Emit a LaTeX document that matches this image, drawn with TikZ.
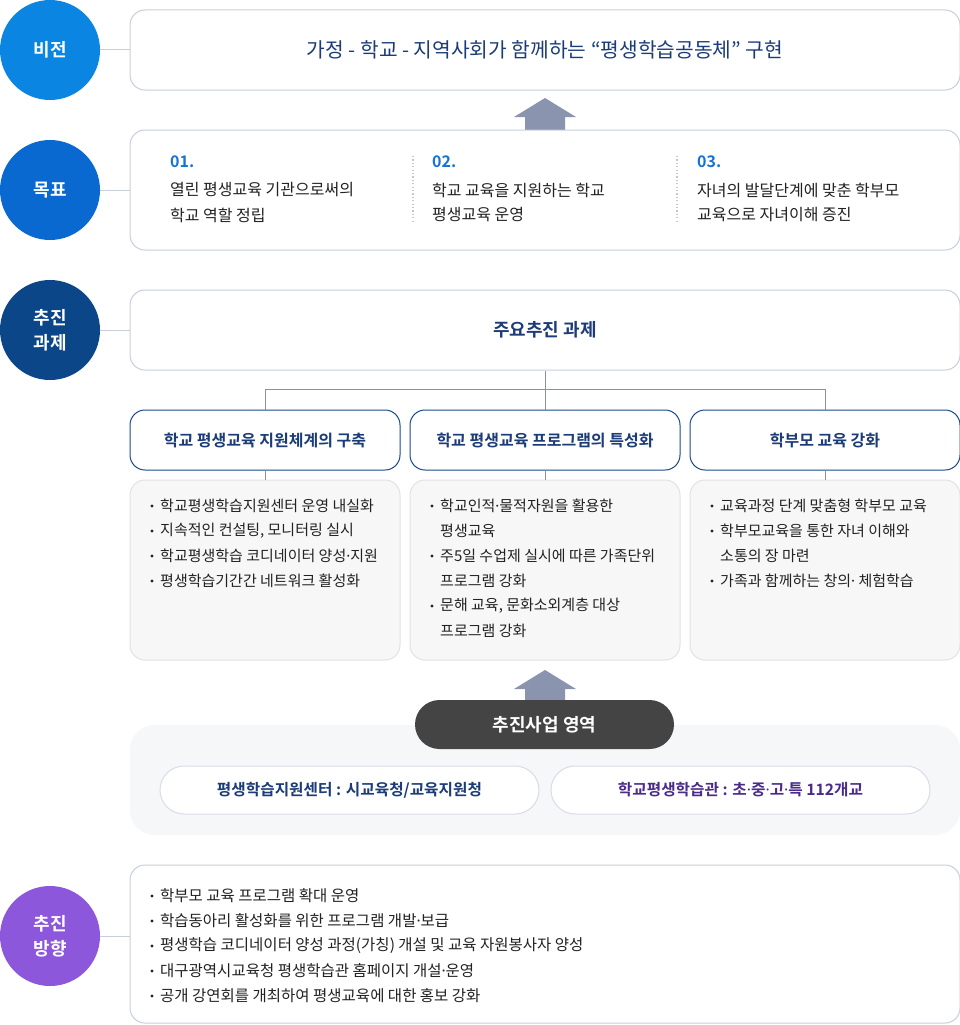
\documentclass[tikz,border=0pt]{standalone}
\usepackage{fontspec}
\setmainfont{Noto Sans CJK KR}[BoldFont={Noto Sans CJK KR Bold}]
\newfontfamily\latinf{Noto Sans}
\newcommand{\mdt}{{\latinf ·}}
\definecolor{cVision}{HTML}{0A86E2}
\definecolor{cGoal}{HTML}{0969D0}
\definecolor{cTask}{HTML}{0B4689}
\definecolor{cDir}{HTML}{8C57DA}
\definecolor{cNavy}{HTML}{1B3C78}
\definecolor{cHead}{HTML}{1A4A8A}
\definecolor{cBorder}{HTML}{C9CEDD}
\definecolor{cDetFill}{HTML}{F7F7F8}
\definecolor{cDetLine}{HTML}{E1E2E7}
\definecolor{cArrow}{HTML}{8A94AF}
\definecolor{cPill}{HTML}{444444}
\definecolor{cBg}{HTML}{F6F7F9}
\definecolor{cInner}{HTML}{DADCE8}
\definecolor{cText}{HTML}{222222}
\definecolor{cTree}{HTML}{8C919C}
\definecolor{cNum}{HTML}{1473D6}
\definecolor{cPurple}{HTML}{4A2B8C}
\definecolor{cDot}{HTML}{C3C7D2}
\begin{document}
\begin{tikzpicture}[x=1pt,y=-1pt,
  circ/.style={circle,minimum size=100pt,inner sep=0pt,text=white,align=center,
    font=\bfseries\fontsize{18}{25}\selectfont},
  lbox/.style={draw=cBorder,line width=1pt,fill=white,rounded corners=15pt,inner sep=0pt},
  hbox/.style={draw=cHead,line width=1pt,fill=white,rounded corners=15pt,inner sep=0pt,
    minimum width=270pt,minimum height=60pt,text=cNavy,font=\bfseries\fontsize{16}{19}\selectfont},
  dbox/.style={draw=cDetLine,line width=1pt,fill=cDetFill,rounded corners=15pt,inner sep=0pt,
    minimum width=270pt,minimum height=180pt},
  link/.style={draw=cBorder,line width=1pt},
  tree/.style={draw=cTree,line width=1pt},
  gnum/.style={anchor=west,inner sep=0pt,text=cNum,font=\bfseries\fontsize{16}{19}\selectfont},
  gtext/.style={anchor=west,inner sep=0pt,text=cText,font=\fontsize{16}{19}\selectfont},
  dtext/.style={anchor=west,inner sep=0pt,text=cText,font=\fontsize{15}{18}\selectfont},
  ftext/.style={anchor=west,inner sep=0pt,text=cText,font=\fontsize{15.5}{18}\selectfont},
  bul/.style={fill=cText},
  bigarrow/.style={fill=cArrow},
  gdiv/.style={draw=cDot,line width=1.2pt,dash pattern=on 1.2pt off 2.2pt},
  ipill/.style={draw=cInner,line width=1pt,fill=white,rounded corners=24pt,minimum width=379pt,
    minimum height=48pt,inner sep=0pt,font=\bfseries\fontsize{15.7}{19}\selectfont}
]
\useasboundingbox[fill=white] (0,0) rectangle (960,1025);

% ---------- circles ----------
\node[circ,fill=cVision] (cv) at (50,50) {비전};
\node[circ,fill=cGoal] (cg) at (50,190) {목표};
\node[circ,fill=cTask] (ct) at (50,330) {추진\\과제};
\node[circ,fill=cDir] (cd) at (50,936) {추진\\방향};

% ---------- vision ----------
\node[lbox,minimum width=830pt,minimum height=80pt,text=cNavy,
  font=\fontsize{20.3}{24}\selectfont] (vbox) at (545,50) {가정 - 학교 - 지역사회가 함께하는 “평생학습공동체” 구현};
\draw[link] (cv.east) -- (vbox.west);

% arrow 1
\fill[bigarrow] (525,130) -- (525,117) -- (514,117) -- (545,98) -- (576,117) -- (565,117) -- (565,130) -- cycle;

% ---------- goals ----------
\node[lbox,minimum width=830pt,minimum height=120pt] (gbox) at (545,190) {};
\draw[link] (cg.east) -- (gbox.west);
\node[gnum] (g1n) at (170,162) {01.};
\node[gtext] (g1a) at (170,190) {열린 평생교육 기관으로써의};
\node[gtext] (g1b) at (170,215) {학교 역할 정립};
\node[gnum] (g2n) at (432,162) {02.};
\node[gtext] (g2a) at (432,190) {학교 교육을 지원하는 학교};
\node[gtext] (g2b) at (432,215) {평생교육 운영};
\node[gnum] (g3n) at (697,162) {03.};
\node[gtext] (g3a) at (697,190) {자녀의 발달단계에 맞춘 학부모};
\node[gtext] (g3b) at (697,215) {교육으로 자녀이해 증진};
\draw[gdiv] (413,156) -- (413,222);
\draw[gdiv] (677,156) -- (677,222);

% ---------- tasks ----------
\node[lbox,minimum width=830pt,minimum height=80pt,text=cNavy,
  font=\bfseries\fontsize{18}{22}\selectfont] (tbox) at (545,330) {주요추진 과제};
\draw[link] (ct.east) -- (tbox.west);

\node[hbox] (h1) at (265,440) {학교 평생교육 지원체계의 구축};
\node[hbox] (h2) at (545,440) {학교 평생교육 프로그램의 특성화};
\node[hbox] (h3) at (825,440) {학부모 교육 강화};
\coordinate (tj) at (545,389);
\draw[tree] (tbox.south) -- (tj);
\draw[tree] (tj) -| (h1.north);
\draw[tree] (tj) -| (h3.north);
\draw[tree] (tj) -- (h2.north);

\node[dbox] (d1) at (265,570) {};
\node[dbox] (d2) at (545,570) {};
\node[dbox] (d3) at (825,570) {};
\draw[tree] (h1.south) -- (d1.north);
\draw[tree] (h2.south) -- (d2.north);
\draw[tree] (h3.south) -- (d3.north);

% detail 1
\fill[bul] (152,506) circle (1.6pt);
\fill[bul] (152,531) circle (1.6pt);
\fill[bul] (152,556) circle (1.6pt);
\fill[bul] (152,581) circle (1.6pt);
\node[dtext] (d1a) at (160,506) {학교평생학습지원센터 운영 내실화};
\node[dtext] (d1b) at (160,531) {지속적인 컨설팅, 모니터링 실시};
\node[dtext] (d1c) at (160,556) {학교평생학습 코디네이터 양성\mdt 지원};
\node[dtext] (d1d) at (160,581) {평생학습기간간 네트워크 활성화};

% detail 2
\fill[bul] (432,506) circle (1.6pt);
\fill[bul] (432,556) circle (1.6pt);
\fill[bul] (432,606) circle (1.6pt);
\node[dtext] (d2a) at (440,506) {학교인적\mdt 물적자원을 활용한};
\node[dtext] (d2b) at (440,531) {평생교육};
\node[dtext] (d2c) at (440,556) {주5일 수업제 실시에 따른 가족단위};
\node[dtext] (d2d) at (440,581) {프로그램 강화};
\node[dtext] (d2e) at (440,606) {문해 교육, 문화소외계층 대상};
\node[dtext] (d2f) at (440,631) {프로그램 강화};

% detail 3
\fill[bul] (712,506) circle (1.6pt);
\fill[bul] (712,531) circle (1.6pt);
\fill[bul] (712,581) circle (1.6pt);
\node[dtext] (d3a) at (720,506) {교육과정 단계 맞춤형 학부모 교육};
\node[dtext] (d3b) at (720,531) {학부모교육을 통한 자녀 이해와};
\node[dtext] (d3c) at (720,556) {소통의 장 마련};
\node[dtext] (d3d) at (720,581) {가족과 함께하는 창의\mdt\ 체험학습};

% ---------- business area ----------
\node[fill=cBg,rounded corners=25pt,minimum width=830pt,minimum height=110pt,inner sep=0pt] (bg) at (545,780) {};
\fill[bigarrow] (525,700) -- (525,689) -- (514,689) -- (545,670) -- (576,689) -- (565,689) -- (565,700) -- cycle;
\node[fill=cPill,rounded corners=24.5pt,minimum width=259pt,minimum height=49pt,inner sep=0pt,
  text=white,font=\bfseries\fontsize{18}{22}\selectfont] (pill) at (544.5,724.5) {추진사업 영역};
\node[ipill,text=cNavy] (p1) at (349.5,790) {평생학습지원센터 : 시교육청/교육지원청};
\node[ipill,text=cPurple] (p2) at (740.5,790) {학교평생학습관 : 초\mdt 중\mdt 고\mdt 특 112개교};

% ---------- direction ----------
\node[lbox,minimum width=830pt,minimum height=158pt] (fbox) at (545,944) {};
\draw[link] (cd.east) -- (cd.east -| fbox.west);
\fill[bul] (152,896) circle (1.6pt);
\fill[bul] (152,921) circle (1.6pt);
\fill[bul] (152,946) circle (1.6pt);
\fill[bul] (152,971) circle (1.6pt);
\fill[bul] (152,996) circle (1.6pt);
\node[ftext] (f1) at (160,896) {학부모 교육 프로그램 확대 운영};
\node[ftext] (f2) at (160,921) {학습동아리 활성화를 위한 프로그램 개발\mdt 보급};
\node[ftext] (f3) at (160,946) {평생학습 코디네이터 양성 과정(가칭) 개설 및 교육 자원봉사자 양성};
\node[ftext] (f4) at (160,971) {대구광역시교육청 평생학습관 홈페이지 개설\mdt 운영};
\node[ftext] (f5) at (160,996) {공개 강연회를 개최하여 평생교육에 대한 홍보 강화};
\end{tikzpicture}
\end{document}
